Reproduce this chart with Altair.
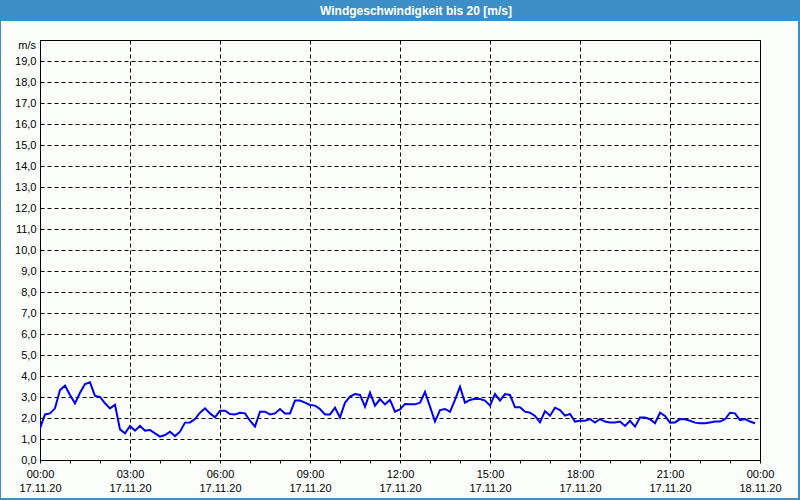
import altair as alt
import pandas as pd

# ---- data (10-minute samples, 17.11.20 00:00 .. 23:50) ----
wind_00_04 = [1.51, 2.17, 2.22, 2.46, 3.33, 3.54, 3.10, 2.70, 3.20, 3.62, 3.70, 3.05,
              3.00, 2.70, 2.46, 2.63, 1.46, 1.27, 1.62, 1.40, 1.63, 1.40, 1.43, 1.27]
wind_04_08 = [1.11, 1.19, 1.35, 1.14, 1.35, 1.78, 1.79, 1.95, 2.25, 2.46, 2.22, 2.03,
              2.35, 2.35, 2.19, 2.17, 2.25, 2.22, 1.87, 1.59, 2.30, 2.30, 2.17, 2.22]
wind_08_12 = [2.43, 2.22, 2.22, 2.83, 2.83, 2.73, 2.62, 2.59, 2.43, 2.17, 2.17, 2.49,
              2.03, 2.73, 3.02, 3.14, 3.10, 2.54, 3.21, 2.59, 2.90, 2.65, 2.86, 2.30]
wind_12_16 = [2.41, 2.67, 2.65, 2.65, 2.73, 3.24, 2.54, 1.83, 2.38, 2.43, 2.29, 2.86,
              3.49, 2.73, 2.86, 2.92, 2.90, 2.83, 2.59, 3.14, 2.83, 3.14, 3.10, 2.51]
wind_16_20 = [2.51, 2.30, 2.25, 2.10, 1.79, 2.33, 2.11, 2.49, 2.38, 2.11, 2.19, 1.83,
              1.87, 1.87, 1.95, 1.78, 1.95, 1.83, 1.79, 1.79, 1.83, 1.62, 1.87, 1.59]
wind_20_24 = [2.02, 2.02, 1.94, 1.75, 2.25, 2.10, 1.78, 1.79, 1.95, 1.94, 1.87, 1.78,
              1.75, 1.75, 1.79, 1.83, 1.83, 1.94, 2.25, 2.22, 1.90, 1.95, 1.83, 1.75]
wind = wind_00_04 + wind_04_08 + wind_08_12 + wind_12_16 + wind_16_20 + wind_20_24
step_minutes = 10
hours = [i * step_minutes / 60 for i in range(len(wind))]

title_text = "Windgeschwindigkeit bis 20 [m/s]"
unit_text = "m/s"
y_ticks = list(range(0, 20))
x_ticks = list(range(0, 25))

df = pd.DataFrame({"h": hours, "v": wind})
one = pd.DataFrame({"t": [title_text], "u": [unit_text]})

FONT = "Liberation Sans"
BLUE = "#3c8fc6"

x_scale = alt.Scale(domain=[0, 24], nice=False, zero=False)
y_scale = alt.Scale(domain=[0, 20], nice=False)

x_axis = alt.Axis(
    title=None,
    values=x_ticks,
    labelExpr=(
        "datum.value % 3 === 0 ? ["
        "(datum.value == 24 ? '00:00' : (datum.value < 10 ? '0' : '') + datum.value + ':00'),"
        "(datum.value == 24 ? '18.11.20' : '17.11.20')] : ''"
    ),
    labelOverlap=False,
    labelFlush=False,
    labelFont=FONT,
    labelFontSize=11,
    labelColor="black",
    labelLineHeight=14,
    labelPadding=5,
    labelBaseline="top",
    tickSize=3,
    tickColor="black",
    domainColor="black",
    grid=True,
    gridColor="black",
    gridDash=[4, 3],
    gridOpacity={"condition": {"test": "datum.value % 3 === 0", "value": 1}, "value": 0},
)

y_axis = alt.Axis(
    title=None,
    values=y_ticks,
    labelExpr="replace(format(datum.value, '.1f'), '.', ',')",
    labelFont=FONT,
    labelFontSize=11,
    labelColor="black",
    labelPadding=4,
    ticks=False,
    domainColor="black",
    grid=True,
    gridColor="black",
    gridDash=[4, 3],
)

line = alt.Chart(df).mark_line(color="#0000ee", strokeWidth=2, clip=True).encode(
    x=alt.X("h:Q", scale=x_scale, axis=x_axis),
    y=alt.Y("v:Q", scale=y_scale, axis=y_axis),
)

base = alt.Chart(one)
title_bar = base.mark_rect(color=BLUE).encode(
    x=alt.value(-40), x2=alt.value(760), y=alt.value(-40), y2=alt.value(-19)
)
left_bar = base.mark_rect(color=BLUE).encode(
    x=alt.value(-40), x2=alt.value(-39), y=alt.value(-40), y2=alt.value(460)
)
right_bar = base.mark_rect(color=BLUE).encode(
    x=alt.value(758), x2=alt.value(760), y=alt.value(-40), y2=alt.value(460)
)
bottom_bar = base.mark_rect(color=BLUE).encode(
    x=alt.value(-40), x2=alt.value(760), y=alt.value(458), y2=alt.value(460)
)
title = base.mark_text(
    color="white", font=FONT, fontSize=12, fontWeight="bold", align="center", baseline="middle"
).encode(x=alt.value(376), y=alt.value(-29), text="t:N")
unit = base.mark_text(
    color="black", font=FONT, fontSize=11, align="right", baseline="middle"
).encode(x=alt.value(-4), y=alt.value(6), text="u:N")

chart = alt.layer(line, title_bar, left_bar, right_bar, bottom_bar, title, unit).properties(
    width=720,
    height=420,
    padding={"left": 40, "top": 40, "right": 40, "bottom": 40},
    autosize=alt.AutoSizeParams(type="none"),
    background="#fbfdfb",
).configure_view(stroke="black", strokeWidth=1)

chart.save("out.html", embed_options={"renderer": "svg", "actions": False})
